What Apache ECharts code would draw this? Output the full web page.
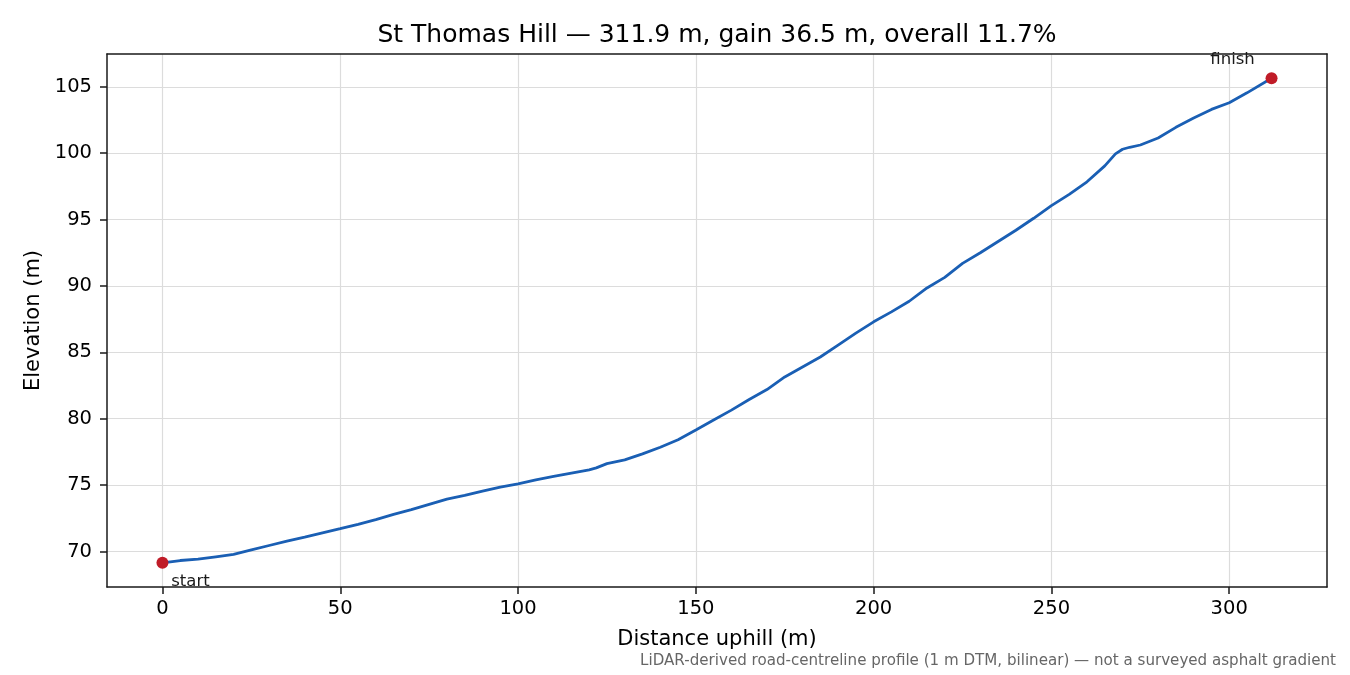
<!DOCTYPE html>
<html>
<head>
<meta charset="utf-8">
<title>St Thomas Hill profile</title>
<script src="https://cdn.jsdelivr.net/npm/echarts@6/dist/echarts.min.js"></script>
<style>
html, body { margin: 0; padding: 0; background: #fff; }
#chart01 { width: 1350px; height: 675px; }
</style>
</head>
<body>
<div id="chart01"></div>
<script>
// distance along the road (m) and elevation (m)
var distances = [0, 5, 10, 15, 20, 25, 30, 35, 40, 45, 50, 55, 60, 65, 70, 75, 80, 85, 90, 95,
        100, 105, 110, 115, 120, 122, 125, 130, 135, 140, 145, 150, 155, 160, 165, 170, 175, 180, 185, 190,
        195, 200, 205, 210, 215, 220, 225, 230, 235, 240, 245, 250, 255, 260, 265, 268, 270, 272, 275, 280,
        285, 290, 295, 300, 305, 311.9];
var elevations = [69.15, 69.32, 69.42, 69.6, 69.78, 70.12, 70.45, 70.78, 71.08, 71.4, 71.72, 72.05, 72.4, 72.8, 73.15, 73.55, 73.95, 74.22, 74.55, 74.85,
        75.1, 75.4, 75.65, 75.9, 76.15, 76.3, 76.62, 76.9, 77.35, 77.85, 78.42, 79.15, 79.9, 80.65, 81.45, 82.2, 83.15, 83.9, 84.65, 85.55,
        86.45, 87.3, 88.05, 88.85, 89.85, 90.65, 91.7, 92.5, 93.35, 94.2, 95.1, 96.05, 96.9, 97.85, 99.05, 99.95, 100.3, 100.45, 100.62, 101.15,
        101.95, 102.65, 103.3, 103.8, 104.55, 105.65];
var xTicks = [0, 50, 100, 150, 200, 250, 300];
var yTicks = [70, 75, 80, 85, 90, 95, 100, 105];
var endLabels = ['start', 'finish'];

var font = 'DejaVu Sans';
var last = distances.length - 1;
var profile = distances.map(function (d, i) { return [d, elevations[i]]; });

// matplotlib-like 5% margins
var xSpan = distances[last] - distances[0];
var ySpan = elevations[last] - elevations[0];
var xMin = distances[0] - xSpan * 0.05, xMax = distances[last] + xSpan * 0.05;
var yMin = elevations[0] - ySpan * 0.05, yMax = elevations[last] + ySpan * 0.05;

var gridStyle = { color: '#dcdcdc', width: 1.2 };
var spine = { show: true, onZero: false, lineStyle: { color: '#1a1a1a', width: 1.5 } };
var tickStyle = { color: '#1a1a1a', width: 1.5 };

var myChart = echarts.init(document.getElementById('chart01'));

var option = {
        animation: false,
        backgroundColor: '#fff',
        title: [
                {
                        text: 'St Thomas Hill \u2014 ' + distances[last] + ' m, gain ' + ySpan.toFixed(1) + ' m, overall ' + (ySpan / xSpan * 100).toFixed(1) + '%',
                        left: 712,
                        textAlign: 'center',
                        top: 17,
                        textStyle: { fontFamily: font, fontSize: 25, fontWeight: 'normal', color: '#000', lineHeight: 26 }
                },
                {
                        text: 'LiDAR-derived road-centreline profile (1 m DTM, bilinear) \u2014 not a surveyed asphalt gradient',
                        right: 9,
                        top: 649,
                        textStyle: { fontFamily: font, fontSize: 15.1, fontWeight: 'normal', color: '#666' }
                }
        ],
        grid: { left: 107, right: 23, top: 54, bottom: 88, containLabel: false },
        xAxis: [
                {
                        type: 'value',
                        min: xMin,
                        max: xMax,
                        splitNumber: 7,
                        name: 'Distance uphill (m)',
                        nameLocation: 'middle',
                        nameGap: 42,
                        nameTextStyle: { fontFamily: font, fontSize: 21, color: '#000' },
                        axisLine: spine,
                        axisTick: { show: true, inside: false, length: 7, customValues: xTicks, lineStyle: tickStyle },
                        axisLabel: { customValues: xTicks, margin: 12, fontFamily: font, fontSize: 19.5, color: '#000' },
                        splitLine: { show: true, lineStyle: gridStyle }
                },
                {
                        type: 'value', position: 'top', min: xMin, max: xMax, z: 10,
                        axisLine: spine, axisTick: { show: false }, axisLabel: { show: false }, splitLine: { show: false }
                }
        ],
        yAxis: [
                {
                        type: 'value',
                        min: yMin,
                        max: yMax,
                        splitNumber: 8,
                        name: 'Elevation (m)',
                        nameLocation: 'middle',
                        nameGap: 60,
                        nameTextStyle: { fontFamily: font, fontSize: 21, color: '#000' },
                        axisLine: spine,
                        axisTick: { show: true, inside: false, length: 7, customValues: yTicks, lineStyle: tickStyle },
                        axisLabel: { customValues: yTicks, margin: 15, fontFamily: font, fontSize: 19.5, color: '#000' },
                        splitLine: { show: true, lineStyle: gridStyle }
                },
                {
                        type: 'value', position: 'right', min: yMin, max: yMax, z: 10,
                        axisLine: spine, axisTick: { show: false }, axisLabel: { show: false }, splitLine: { show: false }
                }
        ],
        series: [
                {
                        name: 'profile',
                        type: 'line',
                        data: profile,
                        showSymbol: false,
                        smooth: false,
                        lineStyle: { color: '#1a5fb4', width: 2.8 },
                        z: 3
                },
                {
                        name: 'ends',
                        type: 'scatter',
                        symbolSize: 12,
                        itemStyle: { color: '#c01c28', opacity: 1 },
                        z: 4,
                        data: [
                                {
                                        value: [distances[0], elevations[0]],
                                        label: { show: true, formatter: endLabels[0], position: 'inside', offset: [28, 19] }
                                },
                                {
                                        value: [distances[last], elevations[last]],
                                        label: { show: true, formatter: endLabels[1], position: 'inside', offset: [-39, -19] }
                                }
                        ],
                        label: { fontFamily: font, fontSize: 16.5, color: '#1a1a1a' }
                }
        ]
};
myChart.setOption(option);
</script>
</body>
</html>
